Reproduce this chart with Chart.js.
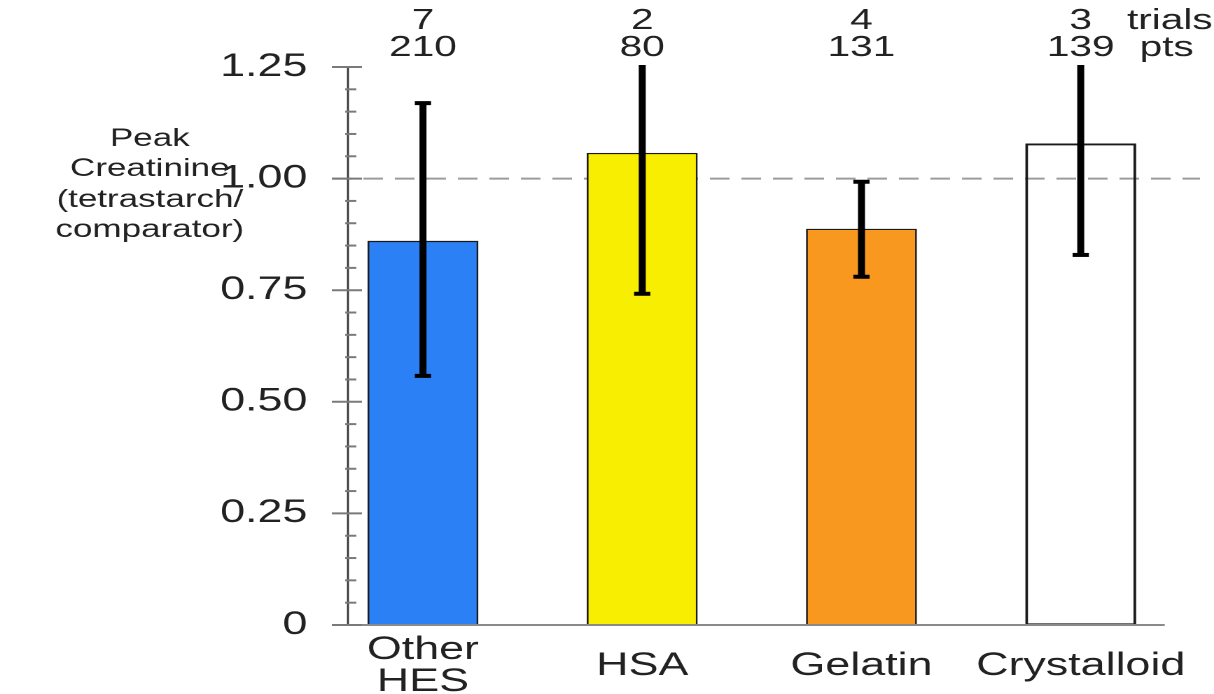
<!DOCTYPE html>
<html>
<head>
<meta charset="utf-8">
<script src="https://cdn.jsdelivr.net/npm/chart.js@4/dist/chart.umd.min.js"></script>
<style>
  body { margin: 0; background: #fff; }
  #chart { display: block; }
</style>
</head>
<body>
<!-- the original figure is stretched sideways, so the canvas is drawn narrow and widened by css -->
<canvas id="chart" width="867" height="694" style="width:1214px;height:694px"></canvas>
<script>
const categories = ['Other HES', 'HSA', 'Gelatin', 'Crystalloid'];
const ratios = [0.86, 1.057, 0.887, 1.078];
const errLow = [0.558, 0.742, 0.78, 0.829];
const errHigh = [1.169, 1.30, 0.993, 1.30];
const trials = [7, 2, 4, 3];
const patients = [210, 80, 131, 139];
const yTicks = ['0', '0.25', '0.50', '0.75', '1.00', '1.25'];
const refLine = 1.0;
const yTitle = ['Peak', 'Creatinine', '(tetrastarch/', 'comparator)'];

const fills = ['#2b80f6', '#f8ee02', '#f8981e', 'rgba(0,0,0,0)'];
const font = '"Liberation Sans", Arial, sans-serif';

let decor = {
    id: 'decor',
    beforeDatasetsDraw(chart) {
        const { ctx, chartArea: a, scales: { x, y } } = chart;
        ctx.save();
        // dashed line at 1.00
        ctx.strokeStyle = '#9c9c9c';
        ctx.lineWidth = 2;
        ctx.setLineDash([14, 8.5]);
        let yr = y.getPixelForValue(refLine);
        ctx.beginPath();
        ctx.moveTo(a.left - 11.5, yr);
        ctx.lineTo(a.right, yr);
        ctx.stroke();
        ctx.setLineDash([]);
        ctx.restore();
    },
    afterDatasetsDraw(chart) {
        const { ctx, chartArea: a, scales: { x, y } } = chart;
        ctx.save();

        // baseline
        ctx.strokeStyle = '#8a8a8a';
        ctx.lineWidth = 2;
        let y0 = y.getPixelForValue(0);
        ctx.beginPath();
        ctx.moveTo(a.left - 11.5, y0);
        ctx.lineTo(x.getPixelForValue(categories.length - 1) + 60, y0);
        ctx.stroke();

        // y axis line and ticks
        ctx.strokeStyle = '#333';
        ctx.lineWidth = 1.4;
        ctx.beginPath();
        ctx.moveTo(a.left, y.getPixelForValue(y.max));
        ctx.lineTo(a.left, y0);
        ctx.stroke();
        ctx.strokeStyle = '#7a7a7a';
        ctx.lineWidth = 2;
        for (let k = 0; k <= 25; k++) {
            let py = y.getPixelForValue(k * 0.05);
            let major = k % 5 === 0;
            ctx.beginPath();
            if (major) {
                ctx.moveTo(a.left - 11.5, py);
                ctx.lineTo(a.left + 10, py);
            } else {
                ctx.moveTo(a.left - 2, py);
                ctx.lineTo(a.left + 6, py);
            }
            ctx.stroke();
        }

        // error bars
        ctx.strokeStyle = '#000';
        for (let i = 0; i < categories.length; i++) {
            let px = x.getPixelForValue(i);
            let hi = y.getPixelForValue(errHigh[i]);
            let lo = y.getPixelForValue(errLow[i]);
            let top = Math.max(hi, a.top - 2);
            ctx.lineWidth = 5;
            ctx.beginPath();
            ctx.moveTo(px, top);
            ctx.lineTo(px, lo);
            ctx.stroke();
            ctx.lineWidth = 4;
            ctx.beginPath();
            ctx.moveTo(px - 5.8, lo);
            ctx.lineTo(px + 5.8, lo);
            if (errHigh[i] <= y.max) {
                ctx.moveTo(px - 5.8, hi);
                ctx.lineTo(px + 5.8, hi);
            }
            ctx.stroke();
        }

        // counts above the bars
        ctx.fillStyle = '#222';
        ctx.font = '29px ' + font;
        ctx.textBaseline = 'middle';
        for (let i = 0; i < categories.length; i++) {
            let px = x.getPixelForValue(i);
            ctx.textAlign = 'center';
            ctx.fillText(String(trials[i]), px, 21);
            ctx.fillText(String(patients[i]), px, 48);
        }
        let last = x.getPixelForValue(categories.length - 1);
        ctx.textAlign = 'left';
        ctx.fillText('trials', last + 33, 21);
        ctx.fillText('pts', last + 42, 48);

        // y axis title
        ctx.font = '25px ' + font;
        ctx.textAlign = 'center';
        ctx.textBaseline = 'alphabetic';
        let baselines = [146, 176, 207, 237];
        yTitle.forEach((t, i) => ctx.fillText(t, 107, baselines[i]));

        ctx.restore();
    }
};

let ctx = document.getElementById('chart').getContext('2d');

let chart = new Chart(ctx, {
    type: 'bar',
    data: {
        datasets: [{
            data: categories.map((c, i) => ({ x: i, y: ratios[i] })),
            backgroundColor: fills,
            borderColor: '#1a1a1a',
            borderWidth: 1.3,
            borderSkipped: false,
            barThickness: 78.6
        }]
    },
    options: {
        responsive: false,
        animation: false,
        devicePixelRatio: 2,
        layout: { padding: { top: 67, right: 10, left: 0, bottom: 0 } },
        plugins: {
            legend: { display: false },
            tooltip: { enabled: false }
        },
        scales: {
            x: {
                type: 'linear',
                offset: false,
                min: -0.342,
                max: 3.544,
                grid: { display: false, drawTicks: false },
                border: { display: false },
                afterFit: (s) => { s.height = 69; s.paddingLeft = 0; s.paddingRight = 0; },
                ticks: {
                    stepSize: 1,
                    includeBounds: false,
                    autoSkip: false,
                    maxRotation: 0,
                    crossAlign: 'center',
                    padding: 25,
                    color: '#222',
                    font: { size: 32, family: font, lineHeight: 1.0 },
                    callback: (v) => Number.isInteger(v) && categories[v] ? categories[v].split(' ') : ''
                }
            },
            y: {
                min: 0,
                max: 1.25,
                grid: { display: false, drawTicks: false },
                border: { display: false },
                afterFit: (s) => { s.width = 248.5; },
                ticks: {
                    stepSize: 0.25,
                    padding: 29,
                    color: '#222',
                    font: { size: 32, family: font },
                    callback: (v, i) => yTicks[i]
                }
            }
        }
    },
    plugins: [decor]
});
</script>
</body>
</html>
